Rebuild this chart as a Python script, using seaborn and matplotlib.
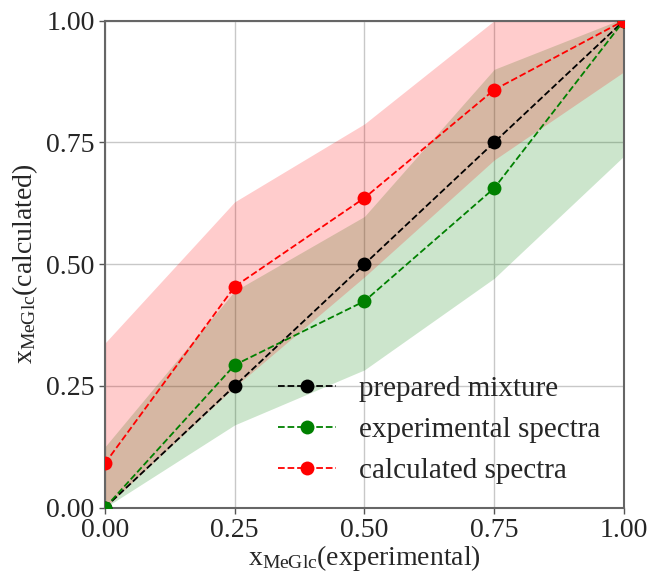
import numpy as np
import pandas as pd
import matplotlib
matplotlib.use("Agg")
import matplotlib.pyplot as plt
import seaborn as sns

# Mole fraction of MeGlc: prepared vs. estimated from spectra
x_exp = [0.0, 0.25, 0.50, 0.75, 1.0]
y_prepared = [0.0, 0.25, 0.50, 0.75, 1.0]
y_experimental = [0.0, 0.293, 0.424, 0.656, 1.0]
y_calculated = [0.091, 0.454, 0.636, 0.858, 1.0]

# Uncertainty bands
exp_lower = [0.0, 0.170, 0.283, 0.471, 0.722]
exp_upper = [0.125, 0.445, 0.598, 0.900, 1.005]
calc_lower = [0.0, 0.248, 0.474, 0.714, 0.895]
calc_upper = [0.338, 0.628, 0.788, 1.0, 1.0]

labels = ["prepared mixture", "experimental spectra", "calculated spectra"]
colors = ["black", "green", "red"]
ticks = [0.0, 0.25, 0.50, 0.75, 1.0]
tick_labels = ["0.00", "0.25", "0.50", "0.75", "1.00"]

sns.set_style("whitegrid")
plt.rcParams["font.family"] = ["Liberation Serif", "DejaVu Serif"]
plt.rcParams["mathtext.default"] = "regular"

df = pd.DataFrame({
    "x": x_exp * 3,
    "y": y_prepared + y_experimental + y_calculated,
    "series": [labels[0]] * 5 + [labels[1]] * 5 + [labels[2]] * 5,
})

fig = plt.figure(figsize=(6.52, 5.73), dpi=100)
ax = fig.add_axes([0.161, 0.114, 0.796, 0.850])

ax.fill_between(x_exp, exp_lower, exp_upper, color="green", alpha=0.2,
                linewidth=0, zorder=1)
ax.fill_between(x_exp, calc_lower, calc_upper, color="red", alpha=0.2,
                linewidth=0, zorder=1)

for lab, col in zip(labels, colors):
    sub = df[df["series"] == lab]
    sns.lineplot(data=sub, x="x", y="y", ax=ax, color=col, linestyle="--",
                 marker="o", markersize=10, markeredgewidth=0,
                 linewidth=1.3, label=lab, zorder=3)

ax.set_xlim(0, 1)
ax.set_ylim(0, 1)
ax.set_xticks(ticks)
ax.set_xticklabels(tick_labels)
ax.set_yticks(ticks)
ax.set_yticklabels(tick_labels)
ax.tick_params(axis="both", labelsize=20, length=4, width=1,
               color="#555555", left=True, bottom=True)
ax.grid(True, color="#c8c8c8", linewidth=1)
for sp in ax.spines.values():
    sp.set_color("#666666")
    sp.set_linewidth(1.5)

ax.set_xlabel("x$_{MeGlc}$(experimental)", fontsize=20, labelpad=0)
ax.set_ylabel("x$_{MeGlc}$(calculated)", fontsize=20, labelpad=4)

ax.legend(loc="lower right", frameon=False, fontsize=21,
          handletextpad=0.8, borderaxespad=0.4)

fig.savefig("out.png", dpi=100)
